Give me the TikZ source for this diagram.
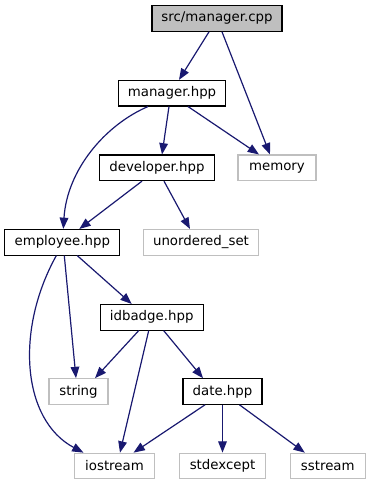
\documentclass[tikz,border=0pt]{standalone}
\usepackage{fontspec}
\usepackage{tikz}
\usetikzlibrary{positioning,arrows.meta,calc}
\setmainfont{DejaVu Sans}
\definecolor{edgeclr}{RGB}{25,25,112}
\definecolor{sysclr}{RGB}{191,191,191}
\tikzset{
    hdr/.style={rectangle,draw=black,line width=0.8pt,fill=white,minimum height=19.2pt,inner sep=0pt,font=\fontsize{10}{12}\selectfont},
    root/.style={hdr,fill=sysclr},
    sys/.style={hdr,draw=sysclr},
    wd/.style={minimum width=#1*0.75pt},
    dep/.style={-{Triangle[length=8.5pt,width=6.5pt]},color=edgeclr,line width=0.9pt},
}

\begin{document}
\begin{tikzpicture}[x=0.75pt,y=-0.75pt]
\useasboundingbox (0,0) rectangle (371,485);
% include graph of src/manager.cpp
\node[root,wd=130] (cpp)  at (217,18.5)   {src/manager.cpp};
\node[hdr,wd=107]  (mgr)  at (172,93.2)   {manager.hpp};
\node[hdr,wd=115]  (dev)  at (157,167.8)  {developer.hpp};
\node[sys,wd=78]   (mem)  at (277,167.8)  {memory};
\node[hdr,wd=115]  (emp)  at (62.3,242.3) {employee.hpp};
\node[sys,wd=115]  (uset) at (201,242.3)  {unordered\_set};
\node[hdr,wd=103]  (badge) at (151.7,317.3) {idbadge.hpp};
\node[sys,wd=59]   (str)  at (78.5,391.5) {string};
\node[hdr,wd=79]   (date) at (222.5,391.5) {date.hpp};
\node[sys,wd=80]   (ios)  at (114.5,466)  {iostream};
\node[sys,wd=86]   (exc)  at (222.5,466)  {stdexcept};
\node[sys,wd=75]   (sst)  at (327.8,466)  {sstream};

\draw[dep] ($(cpp.south)+(-8,0)$) -- ($(mgr.north)+(7,0)$);
\draw[dep] ($(cpp.south)+(5,0)$) -- ($(mem.north)+(-7,0)$);
\draw[dep] ($(mgr.south)+(-3,0)$) -- ($(dev.north)+(5,0)$);
\draw[dep] ($(mgr.south)+(16,0)$) -- ($(mem.north)+(-18,0)$);
\draw[dep] ($(mgr.south)+(-24,0)$) .. controls (105,125) and (67,170) .. ($(emp.north)+(1,0)$);
\draw[dep] ($(dev.south)+(-15,0)$) -- ($(emp.north)+(17,0)$);
\draw[dep] ($(dev.south)+(7,0)$) -- ($(uset.north)+(-11,0)$);
\draw[dep] ($(emp.south)+(15,0)$) -- ($(badge.north)+(-20,0)$);
\draw[dep] ($(emp.south)+(2,0)$) -- ($(str.north)+(-2.5,0)$);
\draw[dep] ($(emp.south)+(-6,0)$) .. controls (15,330) and (22,420) .. ($(ios.north)+(-31,0)$);
\draw[dep] ($(badge.south)+(-13,0)$) -- ($(str.north)+(16.5,0)$);
\draw[dep] ($(badge.south)+(-3,0)$) -- ($(ios.north)+(5.5,0)$);
\draw[dep] ($(badge.south)+(12,0)$) -- ($(date.north)+(-19.5,0)$);
\draw[dep] ($(date.south)+(-17.5,0)$) -- ($(ios.north)+(19,0)$);
\draw[dep] (date.south) -- (exc.north);
\draw[dep] ($(date.south)+(17,0)$) -- ($(sst.north)+(-23,0)$);
\end{tikzpicture}
\end{document}
